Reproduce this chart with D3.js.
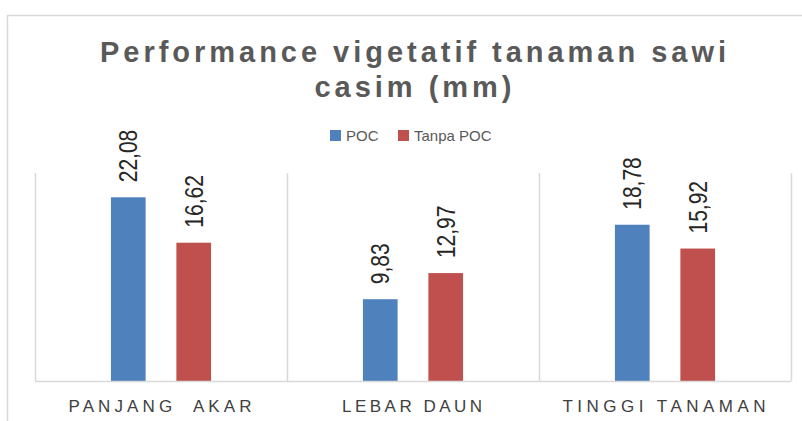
<!DOCTYPE html>
<html>

<head>
  <meta charset="utf-8" />
  <title>Performance vigetatif</title>
  <style>
    body {
      margin: 0;
      background: #fff;
    }
  </style>
  <script src="https://cdnjs.cloudflare.com/ajax/libs/d3/7.8.5/d3.min.js"></script>
</head>

<body>
  <div id="chartArea"></div>
  <script>
    var categories = ['PANJANG  AKAR', 'LEBAR DAUN', 'TINGGI TANAMAN'];
    var series = ['POC', 'Tanpa POC'];
    var poc = [22.08, 9.83, 18.78];
    var tanpaPoc = [16.62, 12.97, 15.92];
    var colors = ['#4f81bd', '#c0504d'];

    var w = 802, h = 421;
    var plotLeft = 35, plotRight = 791, plotTop = 173, plotBottom = 381;

    var data = categories.map(function (c, i) {
      return { cat: c, vals: [poc[i], tanpaPoc[i]] };
    });

    var svg = d3.select('#chartArea').append('svg')
      .attr('width', w)
      .attr('height', h)
      .style('display', 'block');

    // chart frame (cut off at right and bottom)
    svg.append('rect')
      .attr('x', 7.5).attr('y', 15.5)
      .attr('width', 820).attr('height', 430)
      .attr('fill', 'none')
      .attr('stroke', '#d9d9d9')
      .attr('stroke-width', 1.5);

    var x0 = d3.scaleBand()
      .domain(categories)
      .range([plotLeft, plotRight])
      .padding(0);

    var x1 = d3.scaleBand()
      .domain(series)
      .range([0, x0.bandwidth()])
      .paddingInner(0.47)
      .paddingOuter(1.16);

    var y = d3.scaleLinear()
      .domain([0, 25])
      .range([plotBottom, plotTop]);

    // vertical gridlines between categories
    var bounds = categories.map(function (c) { return x0(c); }).concat([plotRight]);
    svg.selectAll('.grid')
      .data(bounds)
      .enter()
      .append('line')
      .attr('x1', d => Math.round(d) + 0.5)
      .attr('x2', d => Math.round(d) + 0.5)
      .attr('y1', y(25))
      .attr('y2', y(0))
      .attr('stroke', '#d9d9d9')
      .attr('stroke-width', 1.5);

    var groups = svg.selectAll('.grp')
      .data(data)
      .enter()
      .append('g')
      .attr('transform', d => 'translate(' + x0(d.cat) + ',0)');

    groups.selectAll('rect')
      .data(d => d.vals.map((v, i) => ({ s: series[i], v: v, i: i })))
      .enter()
      .append('rect')
      .attr('x', d => x1(d.s))
      .attr('y', d => y(d.v))
      .attr('width', x1.bandwidth())
      .attr('height', d => y(0) - y(d.v))
      .attr('fill', d => colors[d.i]);

    groups.selectAll('.val')
      .data(d => d.vals.map((v, i) => ({ s: series[i], v: v, i: i })))
      .enter()
      .append('text')
      .attr('transform', d => 'translate(' + (x1(d.s) + x1.bandwidth() / 2 + 9) + ',' + (y(d.v) - 15) + ') scale(1.25,1) rotate(-90)')
      .attr('font-family', 'Liberation Sans, Arial, sans-serif')
      .attr('font-size', 21)
      .attr('fill', '#262626')
      .text(d => d3.format('.2f')(d.v).replace('.', ','));

    // x axis line
    svg.append('line')
      .attr('x1', plotLeft).attr('x2', plotRight)
      .attr('y1', y(0) + 0.5).attr('y2', y(0) + 0.5)
      .attr('stroke', '#d9d9d9')
      .attr('stroke-width', 1.5);

    var labelWidths = [183, 140, 203];
    svg.selectAll('.xlab')
      .data(categories)
      .enter()
      .append('text')
      .attr('x', d => x0(d) + x0.bandwidth() / 2 - 1)
      .attr('y', 412)
      .attr('text-anchor', 'middle')
      .attr('font-family', 'Liberation Sans, Arial, sans-serif')
      .attr('font-size', 17)
      .attr('fill', '#404040')
      .attr('textLength', (d, i) => labelWidths[i])
      .attr('lengthAdjust', 'spacing')
      .style('white-space', 'pre')
      .text(d => d);

    // title
    var titleLines = ['Performance vigetatif tanaman sawi', 'casim (mm)'];
    var titleWidths = [626, 197];
    svg.selectAll('.title')
      .data(titleLines)
      .enter()
      .append('text')
      .attr('x', 413)
      .attr('y', (d, i) => 62 + i * 35)
      .attr('text-anchor', 'middle')
      .attr('font-family', 'Liberation Sans, Arial, sans-serif')
      .attr('font-weight', 'bold')
      .attr('font-size', 29)
      .attr('fill', '#595959')
      .attr('textLength', (d, i) => titleWidths[i])
      .attr('lengthAdjust', 'spacing')
      .text(d => d);

    // legend
    var legendX = [330, 398];
    var legend = svg.selectAll('.leg')
      .data(series)
      .enter()
      .append('g')
      .attr('transform', (d, i) => 'translate(' + legendX[i] + ',130)');
    legend.append('rect')
      .attr('width', 11).attr('height', 11)
      .attr('fill', (d, i) => colors[i]);
    legend.append('text')
      .attr('x', 16)
      .attr('y', 11)
      .attr('font-family', 'Liberation Sans, Arial, sans-serif')
      .attr('font-size', 15)
      .attr('fill', '#595959')
      .text(d => d);
  </script>
</body>

</html>
